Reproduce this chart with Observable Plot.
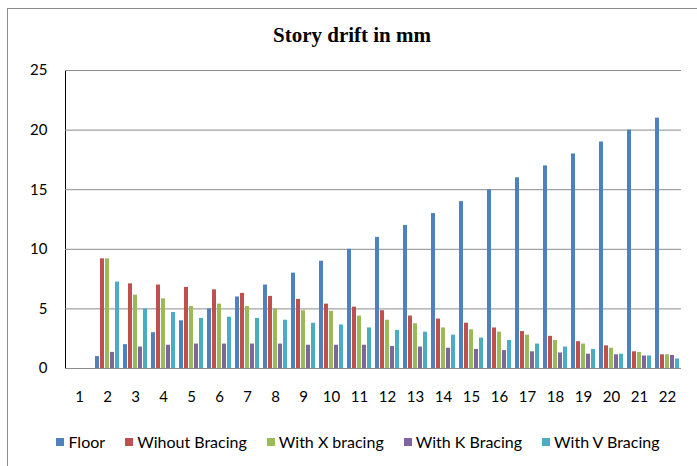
<!DOCTYPE html>
<html>
<head>
<meta charset="utf-8">
<script src="https://cdn.jsdelivr.net/npm/d3@7"></script>
<script src="https://cdn.jsdelivr.net/npm/@observablehq/plot@0.6"></script>
<style>
  html, body { margin: 0; padding: 0; background: #fff; }
  #wrap { position: relative; width: 697px; height: 466px; overflow: hidden; background: #fff; }
  #border { position: absolute; left: 7px; top: 8px; width: 720px; height: 500px; border: 1px solid #8c8c8c; box-sizing: border-box; }
  #title { position: absolute; left: 0; width: 704px; top: 23px; text-align: center; font-family: "Liberation Serif", serif; font-weight: bold; font-size: 21px; color: #000; }
  #chart { position: absolute; left: 0; top: 0; }
  #legend { position: absolute; left: 0; width: 716px; top: 432px; display: flex; justify-content: center; gap: 20px; font-family: Lato, sans-serif; font-size: 16px; color: #000; }
  #legend .item { display: flex; align-items: center; gap: 4px; }
  #legend .sw { width: 8px; height: 8px; display: inline-block; }
</style>
</head>
<body>
<div id="wrap">
  <div id="border"></div>
  <div id="title">Story drift in mm</div>
  <div id="chart"></div>
  <div id="legend"></div>
</div>
<script>
const categories = [1, 2, 3, 4, 5, 6, 7, 8, 9, 10, 11, 12, 13, 14, 15, 16, 17, 18, 19, 20, 21, 22];
const seriesNames = ["Floor", "Wihout Bracing", "With X bracing", "With K Bracing", "With V Bracing"];
const seriesColors = ["#4F81BD", "#C0504D", "#9BBB59", "#8064A2", "#4BACC6"];
const floor = [0, 1, 2, 3, 4, 5, 6, 7, 8, 9, 10, 11, 12, 13, 14, 15, 16, 17, 18, 19, 20, 21];
const withoutBracing = [0, 9.2, 7.1, 7.0, 6.8, 6.6, 6.3, 6.05, 5.8, 5.4, 5.15, 4.85, 4.4, 4.15, 3.8, 3.4, 3.1, 2.7, 2.25, 1.9, 1.4, 1.15];
const xBracing = [0, 9.2, 6.15, 5.85, 5.2, 5.4, 5.2, 5.0, 4.85, 4.8, 4.4, 4.05, 3.75, 3.4, 3.25, 3.05, 2.8, 2.35, 2.05, 1.7, 1.35, 1.15];
const kBracing = [0, 1.35, 1.8, 1.95, 2.05, 2.05, 2.05, 2.05, 1.95, 1.95, 1.95, 1.85, 1.8, 1.7, 1.6, 1.5, 1.4, 1.3, 1.2, 1.15, 1.05, 1.1];
const vBracing = [0, 7.25, 5.0, 4.7, 4.2, 4.3, 4.2, 4.05, 3.8, 3.65, 3.4, 3.2, 3.05, 2.8, 2.55, 2.35, 2.05, 1.8, 1.6, 1.2, 1.05, 0.8];
const yTicks = [0, 5, 10, 15, 20, 25];

const seriesValues = [floor, withoutBracing, xBracing, kBracing, vBracing];
const rows = [];
categories.forEach((c, i) => {
  seriesNames.forEach((s, j) => {
    rows.push({cat: c, series: s, value: seriesValues[j][i]});
  });
});

const chart = Plot.plot({
  width: 697,
  height: 466,
  marginTop: 70,
  marginBottom: 98,
  marginLeft: 63,
  marginRight: 14,
  style: {fontFamily: "Lato, sans-serif", fontSize: "15px", color: "#000", background: "transparent"},
  fx: {domain: categories, padding: 0, label: null, axis: "bottom", tickSize: 0, tickPadding: 23},
  x: {domain: seriesNames, padding: 0.28, axis: null},
  y: {domain: [0, 25], ticks: yTicks, tickSize: 0, tickPadding: 18, label: null, axis: "left", line: true},
  color: {domain: seriesNames, range: seriesColors},
  marks: [
    Plot.gridY(yTicks, {stroke: "#8c8c8c", strokeOpacity: 1}),
    Plot.barY(rows, {fx: "cat", x: "series", y: "value", fill: "series"})
  ]
});
document.getElementById("chart").appendChild(chart);

const legend = document.getElementById("legend");
seriesNames.forEach((s, j) => {
  const item = document.createElement("div");
  item.className = "item";
  const sw = document.createElement("span");
  sw.className = "sw";
  sw.style.background = seriesColors[j];
  const t = document.createElement("span");
  t.textContent = s;
  item.appendChild(sw);
  item.appendChild(t);
  legend.appendChild(item);
});
</script>
</body>
</html>
